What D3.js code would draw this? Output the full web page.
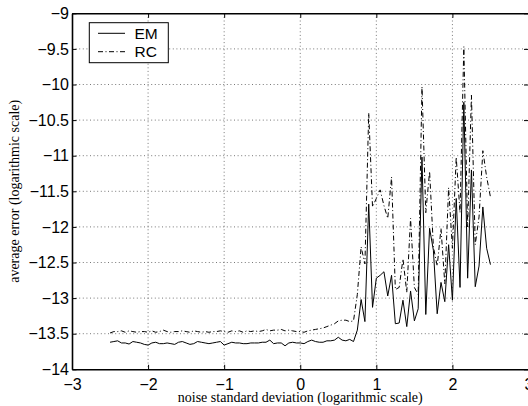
<!DOCTYPE html>
<html>
<head>
<meta charset="utf-8">
<script src="https://cdn.jsdelivr.net/npm/d3@7"></script>
<style>
  html, body { margin: 0; padding: 0; background: #fff; }
  svg { display: block; }
</style>
</head>
<body>
<svg id="chart" width="528" height="406"></svg>
<script>
// x values: noise standard deviation (log scale), -2.5 .. 2.5 step 0.05
const xStart = -2.5, xStep = 0.05;

const emValues = [
  -13.62, -13.61, -13.60, -13.63, -13.63, -13.645, -13.61, -13.62, -13.63, -13.65,
  -13.66, -13.63, -13.62, -13.64, -13.64, -13.63, -13.64, -13.65, -13.62, -13.61,
  -13.63, -13.65, -13.64, -13.61, -13.62, -13.63, -13.64, -13.63, -13.62, -13.61,
  -13.66, -13.64, -13.62, -13.63, -13.63, -13.64, -13.64, -13.63, -13.63, -13.63,
  -13.62, -13.62, -13.59, -13.64, -13.63, -13.63, -13.67, -13.63, -13.62, -13.63,
  -13.63, -13.64, -13.61, -13.59, -13.61, -13.62, -13.62, -13.60, -13.60, -13.59,
  -13.55, -13.59, -13.60, -13.58, -13.61,
  -13.45, -13.02, -13.33, -11.68, -13.13, -12.72, -12.68, -12.63, -12.97, -12.68,
  -13.36, -13.35, -13.03, -13.40, -12.90, -13.32, -13.15, -11.02, -13.23, -12.02,
  -12.33, -13.22, -12.78, -13.05, -12.25, -13.03, -11.60, -12.85, -10.25, -12.72,
  -11.20, -12.84, -12.55, -11.72, -12.30, -12.53
];

const rcValues = [
  -13.49, -13.47, -13.47, -13.46, -13.48, -13.46, -13.47, -13.48, -13.47, -13.47,
  -13.48, -13.46, -13.48, -13.47, -13.45, -13.47, -13.48, -13.47, -13.47, -13.46,
  -13.47, -13.48, -13.46, -13.47, -13.48, -13.47, -13.48, -13.47, -13.47, -13.46,
  -13.47, -13.48, -13.46, -13.47, -13.46, -13.48, -13.46, -13.47, -13.46, -13.47,
  -13.46, -13.44, -13.46, -13.45, -13.45, -13.44, -13.46, -13.45, -13.46, -13.47,
  -13.47, -13.48, -13.46, -13.45, -13.44, -13.43, -13.42, -13.40, -13.38, -13.36,
  -13.32, -13.31, -13.31, -13.33, -13.32,
  -12.95, -12.28, -12.52, -10.40, -11.72, -11.60, -11.48, -11.70, -11.88, -11.30,
  -12.88, -12.85, -12.45, -12.92, -11.88, -12.85, -12.95, -10.03, -11.80, -11.22,
  -12.28, -12.55, -12.02, -12.80, -11.45, -12.30, -11.02, -11.80, -9.47, -12.00,
  -10.15, -12.25, -11.86, -10.93, -11.30, -11.58
];

const xTicks = [-3, -2, -1, 0, 1, 2, 3];
const yTicks = [-14, -13.5, -13, -12.5, -12, -11.5, -11, -10.5, -10, -9.5, -9];
const seriesNames = ["EM", "RC"];
const xLabel = "noise standard deviation (logarithmic scale)";
const yLabel = "average error (logarithmic scale)";

const pLeft = 72, pRight = 528.5, pTop = 13.3, pBottom = 369.3;
const svg = d3.select("#chart");

const x = d3.scaleLinear().domain([-3, 3]).range([pLeft, pRight]);
const y = d3.scaleLinear().domain([-14, -9]).range([pBottom, pTop]);

const fmt = d => String(d).replace("-", "\u2212");

// grid
const grid = svg.append("g");
grid.selectAll("line.vg").data(xTicks.slice(1, -1)).join("line")
  .attr("x1", d => x(d)).attr("x2", d => x(d))
  .attr("y1", pTop).attr("y2", pBottom)
  .attr("stroke", "#555").attr("stroke-width", 0.8).attr("stroke-dasharray", "1,2.6");
grid.selectAll("line.hg").data(yTicks.slice(1, -1)).join("line")
  .attr("y1", d => y(d)).attr("y2", d => y(d))
  .attr("x1", pLeft).attr("x2", pRight)
  .attr("stroke", "#555").attr("stroke-width", 0.8).attr("stroke-dasharray", "1,2.6");

// data
const mk = vals => vals.map((v, i) => [xStart + i * xStep, v]);
const line = d3.line().x(d => x(d[0])).y(d => y(d[1]));
svg.append("path").datum(mk(rcValues)).attr("d", line)
  .attr("fill", "none").attr("stroke", "#000").attr("stroke-width", 1)
  .attr("stroke-dasharray", "5,2.5,1,2.5");
svg.append("path").datum(mk(emValues)).attr("d", line)
  .attr("fill", "none").attr("stroke", "#000").attr("stroke-width", 1);

// axes
const tickFont = "'Liberation Sans', Arial, Helvetica, sans-serif";
const styleAxis = g => {
  g.select(".domain").attr("stroke", "#000").attr("stroke-width", 1.6);
  g.selectAll(".tick line").attr("stroke", "#000").attr("stroke-width", 1);
  g.selectAll("text").attr("font-family", tickFont).attr("font-size", 16).attr("fill", "#000");
};
svg.append("g").attr("transform", `translate(0,${pBottom})`)
  .call(d3.axisBottom(x).tickValues(xTicks).tickFormat(fmt).tickSizeInner(-4.5).tickSizeOuter(0).tickPadding(9.5))
  .call(styleAxis);
svg.append("g").attr("transform", `translate(${pLeft},0)`)
  .call(d3.axisLeft(y).tickValues(yTicks).tickFormat(fmt).tickSizeInner(-4.5).tickSizeOuter(0).tickPadding(3))
  .call(styleAxis);
svg.append("g").attr("transform", `translate(0,${pTop})`)
  .call(d3.axisTop(x).tickValues(xTicks).tickFormat("").tickSizeInner(-4.5).tickSizeOuter(0))
  .call(styleAxis);
svg.append("g").attr("transform", `translate(${pRight},0)`)
  .call(d3.axisRight(y).tickValues(yTicks).tickFormat("").tickSizeInner(-4.5).tickSizeOuter(0))
  .call(styleAxis);

// axis labels
const serif = "'Liberation Serif', 'Times New Roman', serif";
svg.append("text").attr("x", (pLeft + pRight) / 2).attr("y", 402)
  .attr("text-anchor", "middle").attr("font-family", serif).attr("font-size", 14)
  .text(xLabel);
svg.append("text").attr("transform", `translate(18.5,${(pTop + pBottom) / 2}) rotate(-90)`)
  .attr("text-anchor", "middle").attr("font-family", serif).attr("font-size", 14)
  .text(yLabel);

// legend
const lg = svg.append("g");
lg.append("rect").attr("x", 89.3).attr("y", 22.7).attr("width", 79).attr("height", 40)
  .attr("fill", "#fff").attr("stroke", "#000").attr("stroke-width", 1);
const legendRows = [
  { name: seriesNames[0], dash: null, ly: 33.3 },
  { name: seriesNames[1], dash: "5,2.5,1,2.5", ly: 51.7 }
];
legendRows.forEach(r => {
  const l = lg.append("line").attr("x1", 98).attr("x2", 125).attr("y1", r.ly).attr("y2", r.ly)
    .attr("stroke", "#000").attr("stroke-width", 1);
  if (r.dash) l.attr("stroke-dasharray", r.dash);
  lg.append("text").attr("x", 134.5).attr("y", r.ly + 5.7)
    .attr("font-family", tickFont).attr("font-size", 15.5).text(r.name);
});
</script>
</body>
</html>
